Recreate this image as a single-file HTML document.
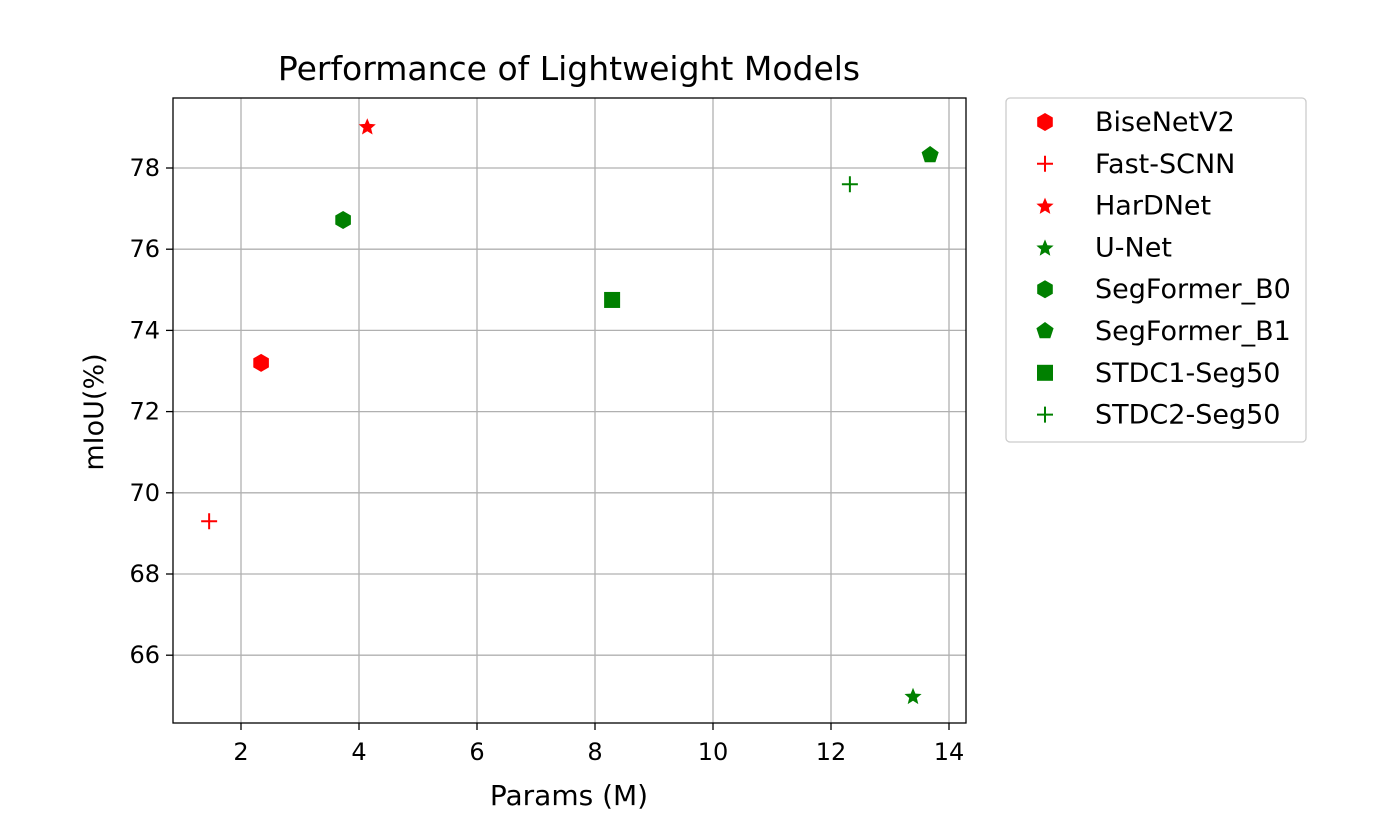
<!DOCTYPE html>
<html><head><meta charset="utf-8"><style>
body{margin:0;background:#fff;}
svg text{font-family:"DejaVu Sans","Liberation Sans",sans-serif;fill:#000;}
</style></head><body>
<svg id="chart" width="1380" height="814" xmlns="http://www.w3.org/2000/svg">
<rect width="1380" height="814" fill="#fff"/>
<g id="grid"></g>
<g id="marks"></g>
<rect x="173" y="98" width="793" height="625" fill="none" stroke="#000" stroke-width="1.3"/>
<g id="ticks"></g>
<text x="569" y="80" style="font-size:33px" text-anchor="middle">Performance of Lightweight Models</text>
<text x="569" y="805" style="font-size:28px" text-anchor="middle">Params (M)</text>
<text x="0" y="0" style="font-size:27px" text-anchor="middle" transform="translate(103,412) rotate(-90)">mIoU(%)</text>
<rect x="1006" y="98" width="300" height="344" rx="4" fill="#fff" stroke="#ccc" stroke-width="1.3"/>
<g id="legend"></g>
</svg>
<script>
const models=["BiseNetV2","Fast-SCNN","HarDNet","U-Net","SegFormer_B0","SegFormer_B1","STDC1-Seg50","STDC2-Seg50"];
const params=[2.34,1.46,4.14,13.39,3.73,13.68,8.29,12.32];
const miou=[73.2,69.3,79.03,65.0,76.72,78.32,74.75,77.6];
const colors=["red","red","red","green","green","green","green","green"];
const shapes=["hexagon","plus","star","star","hexagon","pentagon","square","plus"];
const xTicks=[2,4,6,8,10,12,14];
const yTicks=[66,68,70,72,74,76,78];
const NS="http://www.w3.org/2000/svg";
const X=v=>123+v*59, Y=v=>168-(v-78)*40.6;
function mk(t,a,p){const e=document.createElementNS(NS,t);for(const k in a)e.setAttribute(k,a[k]);p.appendChild(e);return e;}
const grid=document.getElementById('grid'),ticks=document.getElementById('ticks');
xTicks.forEach(v=>{const x=X(v);
 const g=mk('line',{x1:x,x2:x,y1:98,y2:723,stroke:'#b0b0b0','stroke-width':1.3},grid);
 
 
 const t=mk('line',{x1:x,x2:x,y1:723,y2:730,stroke:'#000','stroke-width':1.3},ticks);
 
 
 const l=mk('text',{x:x,y:760,style:'font-size:24px','text-anchor':'middle'},ticks);l.textContent=v;
 
 });
yTicks.forEach(v=>{const y=Y(v);
 const g=mk('line',{x1:173,x2:966,y1:y,y2:y,stroke:'#b0b0b0','stroke-width':1.3},grid);
 
 
 const t=mk('line',{x1:166,x2:173,y1:y,y2:y,stroke:'#000','stroke-width':1.3},ticks);
 
 
 const l=mk('text',{x:160,y:y+8,style:'font-size:24px','text-anchor':'end'},ticks);l.textContent=v;
 
 });
function poly(n,r,rot,cx,cy,inner){let pts=[];const m=inner?2*n:n;for(let i=0;i<m;i++){const a=rot+i*Math.PI*2/m;const rr=inner&&i%2?inner:r;pts.push((cx+rr*Math.sin(a)).toFixed(1)+','+(cy-rr*Math.cos(a)).toFixed(1));}return pts.join(' ');}
function marker(shape,cx,cy,c,p){
 if(shape==='plus')return mk('path',{d:`M${cx-8} ${cy}H${cx+8}M${cx} ${cy-8}V${cy+8}`,stroke:c,'stroke-width':2,fill:'none'},p);
 if(shape==='square')return mk('rect',{x:cx-8,y:cy-8,width:16,height:16,fill:c},p);
 if(shape==='hexagon')return mk('polygon',{points:poly(6,9,0,cx,cy),fill:c},p);
 if(shape==='pentagon')return mk('polygon',{points:poly(5,9,0,cx,cy),fill:c},p);
 return mk('polygon',{points:poly(5,9,0,cx,cy+1,4),fill:c},p);
}
const marks=document.getElementById('marks'),leg=document.getElementById('legend');
models.forEach((m,i)=>{
 const e=marker(shapes[i],X(params[i]),Y(miou[i]),colors[i],marks);
 
 
 const ly=122+i*41.8;
 const le=marker(shapes[i],1045,ly,colors[i],leg);
 
 
 const t=mk('text',{x:1095,y:ly+9,style:'font-size:27px'},leg);t.textContent=m;
 
 
});
</script>
</body></html>
